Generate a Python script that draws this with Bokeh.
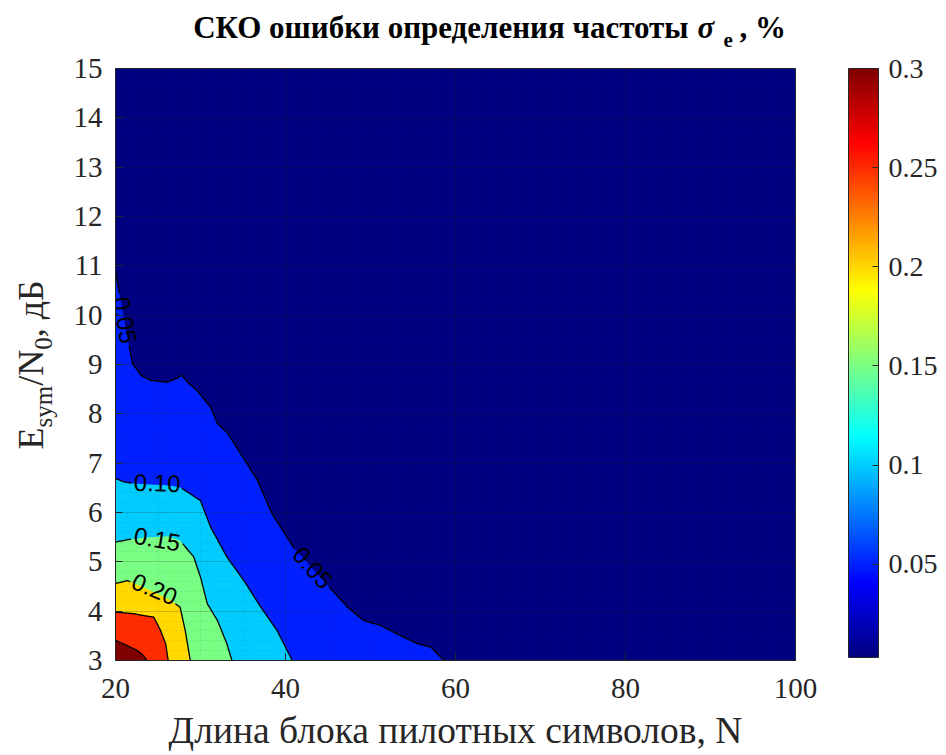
import math
from bokeh.plotting import figure
from bokeh.layouts import column, row
from bokeh.models import (ColumnDataSource, LinearColorMapper, ColorBar, FixedTicker, Range1d)
from bokeh.transform import transform
from bokeh.core.properties import value
from bokeh.embed import file_html
from bokeh.resources import INLINE

# ---------------- data ----------------
x_ticks = [20, 40, 60, 80, 100]
y_ticks = [3, 4, 5, 6, 7, 8, 9, 10, 11, 12, 13, 14, 15]
cb_ticks = [0.05, 0.1, 0.15, 0.2, 0.25, 0.3]
z_low, z_high = 0.003, 0.3
x_lim = (20, 100)
y_lim = (3, 15)

levels = [0.05, 0.10, 0.15, 0.20, 0.25, 0.30]

c005_x = [20.0, 20.4, 21.4, 22.0, 23.0, 24.1, 26.1, 27.2, 27.8, 28.6, 29.6, 31.2, 32.0, 33.1,
          35.1, 36.7, 38.4, 40.9, 43.5, 47.3, 49.2, 51.2, 53.1, 55.5, 57.1, 58.4, 58.9]
c005_y = [10.9, 10.5, 9.55, 9.02, 8.78, 8.68, 8.64, 8.72, 8.78, 8.62, 8.47, 8.13, 7.80, 7.63,
          7.09, 6.65, 5.98, 5.30, 4.80, 4.08, 3.81, 3.71, 3.54, 3.34, 3.27, 3.04, 3.0]
c010_x = [20.0, 21.0, 22.1, 24.0, 26.1, 27.6, 28.6, 30.0, 31.2, 33.1, 35.1, 37.1, 39.0, 40.8]
c010_y = [6.69, 6.62, 6.59, 6.57, 6.55, 6.51, 6.40, 6.24, 5.70, 5.10, 4.62, 4.08, 3.61, 3.0]
c015_x = [20.0, 22.1, 24.0, 26.1, 27.6, 29.2, 30.0, 30.8, 32.0, 33.1, 33.7]
c015_y = [5.40, 5.47, 5.50, 5.52, 5.43, 5.10, 4.69, 4.15, 3.81, 3.34, 3.0]
c020_x = [20.0, 21.4, 24.1, 26.5, 27.6, 28.2, 28.8]
c020_y = [4.56, 4.62, 4.42, 4.22, 4.08, 3.61, 3.0]
c025_x = [20.0, 22.1, 23.3, 24.5, 25.3, 25.9, 26.2]
c025_y = [3.98, 3.95, 3.91, 3.88, 3.61, 3.34, 3.0]
c030_x = [20.0, 21.4, 22.6, 23.3, 23.7]
c030_y = [3.41, 3.30, 3.20, 3.10, 3.0]

contours_x = [c005_x, c010_x, c015_x, c020_x, c025_x, c030_x]
contours_y = [c005_y, c010_y, c015_y, c020_y, c025_y, c030_y]

lab_text = ["0.05", "0.10", "0.15", "0.20", "0.05"]
lab_level = [0.05, 0.10, 0.15, 0.20, 0.05]
lab_x = [21.1, 24.9, 24.9, 24.6, 43.2]
lab_y = [9.9, 6.60, 5.46, 4.45, 4.88]
lab_angle = [-1.40, -0.03, -0.17, -0.40, -0.85]

title_parts = ["СКО ошибки определения частоты", "σ", "e", ", %"]
ylabel_parts = ["E", "sym", "/N", "0", ", дБ"]
xlabel = "Длина блока пилотных символов, N"

# ---------------- layout geometry ----------------
TOTAL_W, TOTAL_H = 940, 752
TITLE_H = 52
YLAB_W = 66
FW, FH = 680, 592
FL, FT = 115, 68  # frame left/top in page px
SX = FW / (x_lim[1] - x_lim[0])
SY = FH / (y_lim[1] - y_lim[0])
TXT = "#262626"
BASE_SHIFT = 0.36  # anchor-to-baseline offset of the svg text, in em

def jet(t):
    r = min(max(1.5 - abs(4 * t - 3), 0), 1)
    g = min(max(1.5 - abs(4 * t - 2), 0), 1)
    b = min(max(1.5 - abs(4 * t - 1), 0), 1)
    return "#%02x%02x%02x" % (round(r * 255), round(g * 255), round(b * 255))

palette = [jet(i / 255) for i in range(256)]
mapper = LinearColorMapper(palette=palette, low=z_low, high=z_high)

# ---------------- main plot ----------------
main_w = TOTAL_W - YLAB_W
main_h = TOTAL_H - TITLE_H
top_b = FT - TITLE_H
bot_b = main_h - top_b - FH
p = figure(x_range=Range1d(*x_lim), y_range=Range1d(*y_lim),
           width=main_w, height=main_h,
           frame_width=FW, frame_height=FH,
           min_border_left=FL - YLAB_W, min_border_top=top_b,
           min_border_right=main_w - (FL - YLAB_W) - FW,
           min_border_bottom=bot_b, title=None,
           output_backend="svg", toolbar_location=None)
p.background_fill_color = palette[0]
p.border_fill_color = "white"
p.outline_line_color = TXT
p.outline_line_width = 1

band_xs, band_ys = [], []
for cx, cy in zip(contours_x, contours_y):
    band_xs.append(list(cx) + [x_lim[0]])
    band_ys.append(list(cy) + [y_lim[0]])
band_src = ColumnDataSource(dict(xs=band_xs, ys=band_ys, level=levels))
p.patches("xs", "ys", source=band_src, fill_color=transform("level", mapper),
          line_color=None)

R = 25.0
def trimmed(xs, ys, centers):
    segs = []
    cur_x, cur_y = [], []
    pts = []
    for i in range(len(xs) - 1):
        for k in range(16):
            t = k / 16
            pts.append((xs[i] + (xs[i + 1] - xs[i]) * t, ys[i] + (ys[i + 1] - ys[i]) * t))
    pts.append((xs[-1], ys[-1]))
    for (qx, qy) in pts:
        inside = any(((qx - cx) * SX) ** 2 + ((qy - cy) * SY) ** 2 < R * R for cx, cy in centers)
        if inside:
            if len(cur_x) > 1:
                segs.append((cur_x, cur_y))
            cur_x, cur_y = [], []
        else:
            cur_x.append(qx)
            cur_y.append(qy)
    if len(cur_x) > 1:
        segs.append((cur_x, cur_y))
    return segs

line_xs, line_ys = [], []
for lev, cx, cy in zip(levels, contours_x, contours_y):
    centers = [(lx, ly) for lx, ly, ll in zip(lab_x, lab_y, lab_level) if abs(ll - lev) < 1e-9]
    for sx, sy in trimmed(cx, cy, centers):
        line_xs.append(sx)
        line_ys.append(sy)
p.multi_line(line_xs, line_ys, line_color="black", line_width=1.3)

lab_src = ColumnDataSource(dict(x=lab_x, y=lab_y, text=lab_text, angle=lab_angle))
p.text("x", "y", text="text", angle="angle", source=lab_src,
       text_font=value("Liberation Sans"), text_font_size="24px",
       text_align="center", text_baseline="middle", text_color="black")

for ax, ticks, standoff in ((p.xaxis, x_ticks, 18), (p.yaxis, y_ticks, 13)):
    ax.ticker = FixedTicker(ticks=ticks)
    ax.major_label_text_font = "Liberation Serif"
    ax.major_label_text_font_size = "29px"
    ax.major_label_text_color = TXT
    ax.axis_line_color = TXT
    ax.major_tick_line_color = TXT
    ax.major_tick_in = 7
    ax.major_tick_out = 0
    ax.minor_tick_line_color = None
    ax.major_label_standoff = standoff

p.xaxis.axis_label = xlabel
p.xaxis.axis_label_text_font = "Liberation Serif"
p.xaxis.axis_label_text_font_size = "37.5px"
p.xaxis.axis_label_text_font_style = "normal"
p.xaxis.axis_label_text_color = TXT
p.xaxis.axis_label_standoff = 9

p.xgrid.ticker = FixedTicker(ticks=x_ticks, minor_ticks=[x_lim[0] + 5 * i for i in range(17)])
p.ygrid.ticker = FixedTicker(ticks=y_ticks, minor_ticks=[y_lim[0] + 0.2 * i for i in range(61)])
for g in (p.xgrid, p.ygrid):
    g.level = "overlay"
    g.grid_line_color = TXT
    g.grid_line_alpha = 0.18
    g.minor_grid_line_color = TXT
    g.minor_grid_line_alpha = 0.12
    g.minor_grid_line_dash = "2 3"

cb = ColorBar(color_mapper=mapper, ticker=FixedTicker(ticks=cb_ticks),
              major_label_overrides={t: str(t) for t in cb_ticks},
              location=(848 - FL, 3), width=30, height=589, padding=0, margin=0,
              label_standoff=10, major_label_text_font="Liberation Serif",
              major_label_text_font_size="28px", major_label_text_color=TXT,
              bar_line_color=TXT, major_tick_line_color=TXT, major_tick_in=6,
              major_tick_out=0, border_line_color=None, background_fill_color=None)
p.add_layout(cb, "center")

# ---------------- text panels ----------------
def put(f, xs, ys, texts, sizes, styles, aligns, angle, color):
    src = ColumnDataSource(dict(x=xs, y=ys, text=texts, size=["%dpx" % s for s in sizes],
                                style=styles, align=aligns))
    f.text("x", "y", text="text", source=src, angle=angle,
           text_font=value("Liberation Serif"), text_font_size="size",
           text_font_style="style", text_align="align", text_baseline="alphabetic",
           text_color=color)

def style_blank(f):
    f.outline_line_color = None
    f.grid.visible = False
    f.background_fill_color = "white"
    f.border_fill_color = "white"

# title panel: y = TITLE_H - page_py
tf = figure(width=TOTAL_W, height=TITLE_H, x_range=Range1d(0, TOTAL_W),
            y_range=Range1d(0, TITLE_H), min_border=0, title=None,
            x_axis_location=None, y_axis_location=None,
            output_backend="svg", toolbar_location=None)
style_blank(tf)
t_sizes = [31, 31, 21, 31]
t_px = [688, 697, 723, 739]
t_base = [38, 38, 47, 38]
put(tf, t_px, [TITLE_H - (b - BASE_SHIFT * s) for b, s in zip(t_base, t_sizes)], title_parts,
    t_sizes, ["bold", "bold italic", "bold", "bold"],
    ["right", "left", "left", "left"], 0.0, "black")

# y-label panel: frame aligned with main frame; y = (FT + FH) - page_py
yf = figure(width=YLAB_W, height=main_h, frame_width=YLAB_W, frame_height=FH,
            x_range=Range1d(0, YLAB_W), y_range=Range1d(0, FH),
            min_border_left=0, min_border_right=0, min_border_top=top_b,
            min_border_bottom=bot_b, title=None,
            x_axis_location=None, y_axis_location=None,
            output_backend="svg", toolbar_location=None)
style_blank(yf)
adv = {"E": 0.611, "s": 0.389, "y": 0.5, "m": 0.778, "/": 0.278, "N": 0.722, "0": 0.5,
       ",": 0.25, " ": 0.25, "д": 0.52, "Б": 0.56}
y_sizes = [36, 25, 36, 25, 36]
y_base_x = [43, 52, 43, 52, 43]
start_py = 449
ys_, xs_ = [], []
cur = start_py
for txt, s, bx in zip(ylabel_parts, y_sizes, y_base_x):
    ys_.append((FT + FH) - cur)
    xs_.append(bx - BASE_SHIFT * s)
    cur -= sum(adv.get(ch, 0.5) for ch in txt) * s
put(yf, xs_, ys_, ylabel_parts, y_sizes, ["normal"] * 5, ["left"] * 5, math.pi / 2, TXT)

layout = column(tf, row(yf, p, spacing=0), spacing=0)
open("out.html", "w").write(file_html(layout, INLINE))
